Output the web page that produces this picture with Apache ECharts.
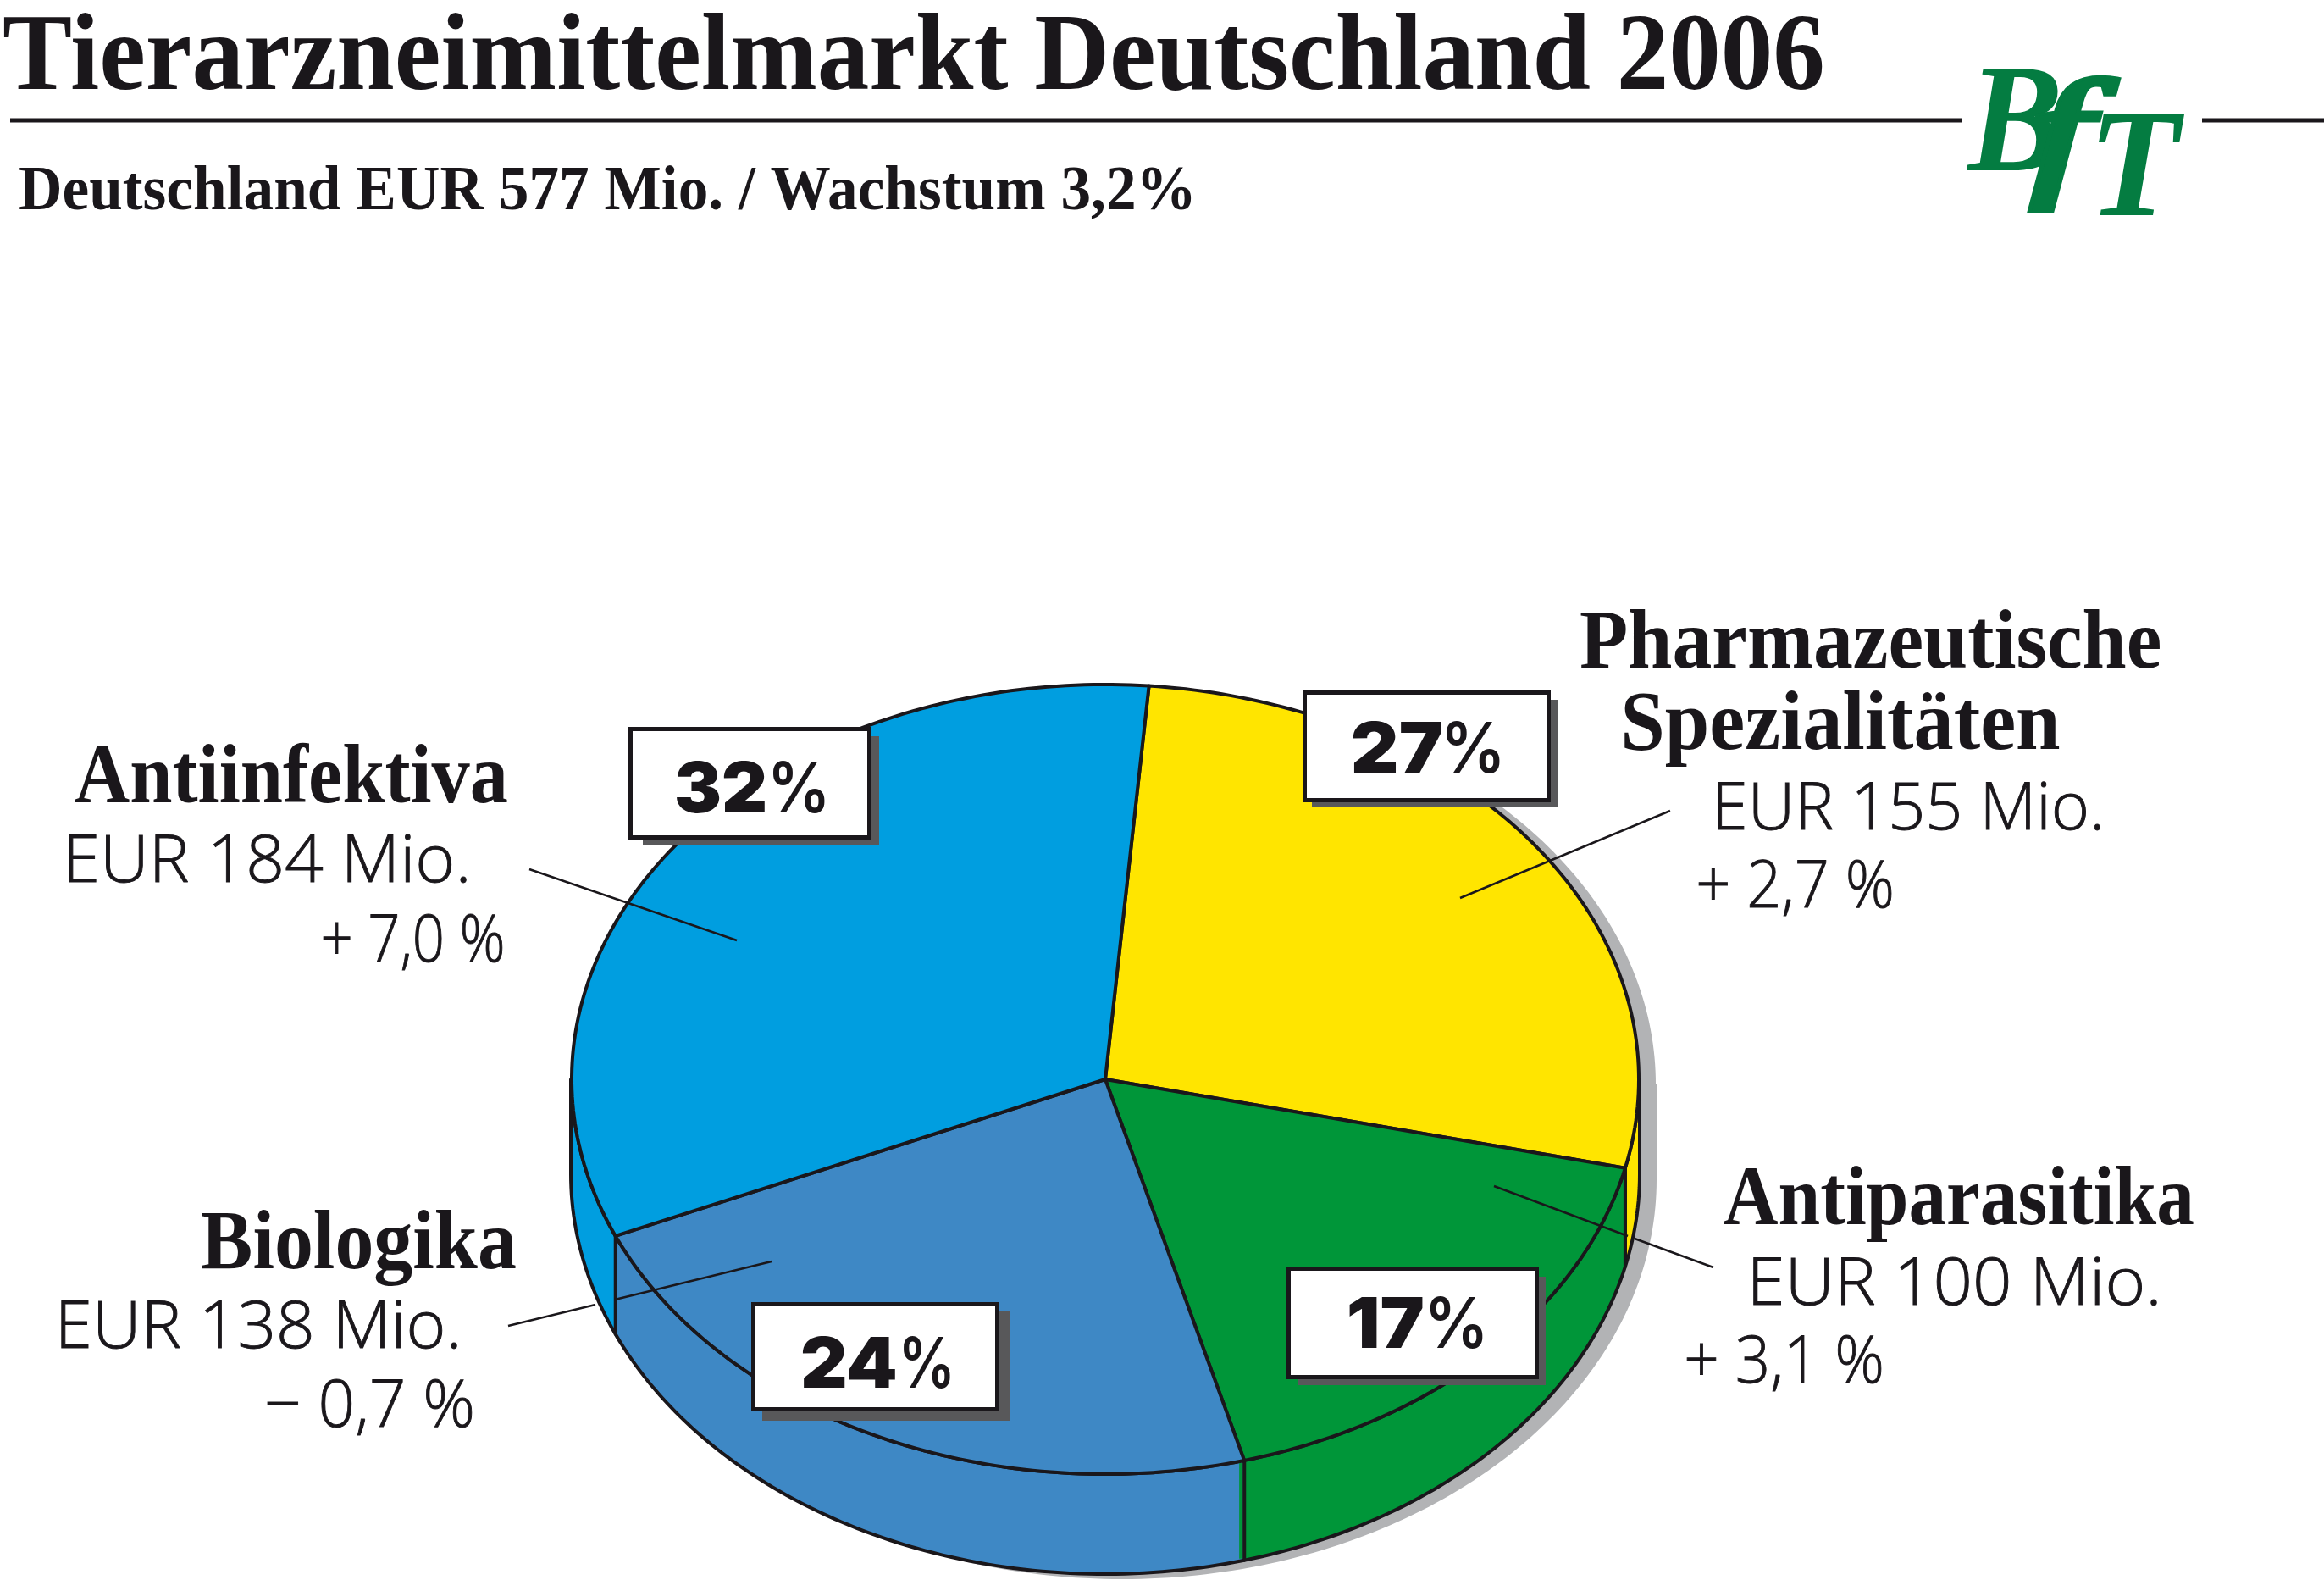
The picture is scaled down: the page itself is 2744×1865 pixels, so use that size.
<!DOCTYPE html>
<html><head><meta charset="utf-8">
<style>html,body{margin:0;padding:0;background:#fff}#c{width:2744px;height:1865px}</style>
<script src="https://cdn.jsdelivr.net/npm/echarts@6/dist/echarts.min.js"></script>
</head><body><div id="c"></div>
<script>
// ---- data ----
const categories = ['Pharmazeutische Spezialitäten', 'Antiparasitika', 'Biologika', 'Antiinfektiva'];
const eurMio = [155, 100, 138, 184];
const growth = ['+ 2,7 %', '+ 3,1 %', '− 0,7 %', '+ 7,0 %'];
const percentLabels = ['27%', '17%', '24%', '32%'];
// share of the circle each slice occupies as drawn in the picture
const drawnShare = [27.3, 17.2, 22.7, 32.8];
const colors = ['#FFE500', '#009639', '#3E88C5', '#009EE0'];
const titleText = 'Tierarzneimittelmarkt Deutschland 2006';
const subtitleText = 'Deutschland EUR 577 Mio. / Wachstum 3,2%';

// ---- layout ----
const INK = '#1a171b', SHADOW = '#b2b3b5', BOXSHADOW = '#58585a', LOGO = '#047c41';
const cx = 1305, cy = 1274, rx = 630, ry = 466, rxB = 631, ryB = 472, depth = 112, startDeg = 4.7;
const rad = d => d * Math.PI / 180;
const topPt = d => [cx + rx * Math.sin(rad(d)), cy - ry * Math.cos(rad(d))];
const botPt = d => [cx + rxB * Math.sin(rad(d)), cy + depth - ryB * Math.cos(rad(d))];
function arc(f, a, b) { const n = Math.max(2, Math.ceil(Math.abs(b - a))), o = []; for (let i = 0; i <= n; i++) o.push(f(a + (b - a) * i / n)); return o; }
function bounds(i) {
  const total = drawnShare.reduce((s, v) => s + v, 0);
  let a = startDeg; for (let k = 0; k < i; k++) a += drawnShare[k] / total * 360;
  return [a, a + drawnShare[i] / total * 360];
}
function botAngle(d) { // the bottom-ellipse angle straight below a top-ellipse angle
  if (d === 90 || d === 270) return d;
  const s = (topPt(d)[0] - cx) / rxB; const t = Math.asin(s) * 180 / Math.PI;
  return 180 - t;
}

function renderTop(params, api) {
  const share = api.value(1); // from drawnShare
  const i = params.dataIndex;
  const [a, b] = bounds(i);
  const children = [{ type: 'polygon', shape: { points: [[cx, cy]].concat(arc(topPt, a, b)) },
    style: { fill: colors[i], stroke: INK, lineWidth: 4, lineJoin: 'round', opacity: share > 0 ? 1 : 0 } }];
  if (i === 1) { // thin misregistered strip of this slice's colour beside its wall edge
    const t = topPt(b), w = botPt(botAngle(b));
    children.push({ type: 'line', shape: { x1: t[0] - 4, y1: t[1] + 3, x2: w[0] - 4, y2: w[1] - 2 }, style: { stroke: colors[i], lineWidth: 4 } });
  }
  return { type: 'group', children };
}
function renderWall(params, api) {
  let [a, b] = bounds(params.dataIndex);
  const la = Math.max(a, 90), lb = Math.min(b, 270);
  if (la >= lb || api.value(1) <= 0) return null;
  let pts = arc(topPt, la, lb);
  if (lb === 270) pts.push([cx - rxB, cy]);
  pts = pts.concat(arc(botPt, botAngle(lb), botAngle(la)));
  if (la === 90) pts.push([cx + rxB, cy]);
  return { type: 'polygon', shape: { points: pts },
    style: { fill: colors[params.dataIndex], stroke: INK, lineWidth: 4, lineJoin: 'round' } };
}
function renderShadow() {
  const dx = 20, dy = 6;
  const pts = arc(topPt, -90, 90).concat([[cx + rxB, cy]], arc(botPt, 90, 270), [[cx - rxB, cy]])
    .map(p => [p[0] + dx, p[1] + dy]);
  return { type: 'polygon', shape: { points: pts }, style: { fill: SHADOW } };
}

// ---- text helper: places real text by its ink extents and baseline ----
const mctx = document.createElement('canvas').getContext('2d');
function T(text, font, x0, x1, base, fill, z, bolden) {
  mctx.font = font; mctx.textAlign = 'left';
  mctx.textBaseline = 'alphabetic';
  const m = mctx.measureText(text);
  const scale = (x1 - x0) / (m.actualBoundingBoxLeft + m.actualBoundingBoxRight);
  mctx.textBaseline = 'middle';
  const off = mctx.measureText('H').actualBoundingBoxDescent;
  const style = { text, font, fill: fill || INK, align: 'left', verticalAlign: 'middle' };
  if (bolden) { style.stroke = fill || INK; style.lineWidth = bolden; }
  return { type: 'text', z: z || 50, silent: true, x: x0 + m.actualBoundingBoxLeft * scale, y: base - off, scaleX: scale, scaleY: 1, style };
}
function L(x1, y1, x2, y2, w, z) {
  return { type: 'line', z: z || 40, silent: true, shape: { x1, y1, x2, y2 }, style: { stroke: INK, lineWidth: w } };
}
function box(x0, y0, x1, y1, sx0, sy0, sx1, sy1) {
  return [
    { type: 'rect', z: 42, silent: true, shape: { x: sx0, y: sy0, width: sx1 - sx0, height: sy1 - sy0 }, style: { fill: BOXSHADOW } },
    { type: 'rect', z: 43, silent: true, shape: { x: x0 + 2.5, y: y0 + 2.5, width: x1 - x0 - 5, height: y1 - y0 - 5 }, style: { fill: '#fff', stroke: INK, lineWidth: 5 } }
  ];
}
const HEAD = 'bold 100px "Liberation Serif"';
const BODY = '300 77px "Open Sans"';
const PCT = '900 82px "Inter"';
const PCTSIGN = '600 82px "Inter"';
const LOGOF = 'italic bold 182px "Liberation Serif"';
const LOGOf = 'italic 170px "Liberation Serif"';
const [pIdx, aIdx, bIdx, iIdx] = [0, 1, 2, 3];
const eur = i => 'EUR ' + eurMio[i] + ' Mio.';
const B = (t, x0, x1, base) => T(t, BODY, x0, x1, base, INK, 50, 0.9);
function pct(i, x0, x1, x2, x3, base) {
  const s = percentLabels[i];
  return [T(s.slice(0, -1), PCT, x0, x1, base, INK, 45), T('%', PCTSIGN, x2, x3, base, INK, 45)];
}

const graphicEls = [
  T(titleText, 'bold 130px "Liberation Serif"', 5, 2152, 105),
  T(subtitleText, 'bold 73px "Liberation Serif"', 23, 1407, 247),
  L(12, 142, 2317, 142, 5), L(2600, 142, 2744, 142, 5),
  T('B', LOGOF, 2322, 2430, 201, LOGO), T('f', LOGOf, 2398, 2499, 213, LOGO, 50, 7), T('T', LOGOF, 2478, 2580, 254, LOGO),
  // Antiinfektiva
  T(categories[iIdx], HEAD, 88, 599, 948), B(eur(iIdx), 81, 551, 1042), B(growth[iIdx], 382, 593, 1136),
  // Pharmazeutische Spezialitaeten
  T('Pharmazeutische', HEAD, 1866, 2550, 789), T('Spezialitäten', HEAD, 1918, 2432, 885),
  B(eur(pIdx), 2028, 2480, 980), B(growth[pIdx], 2006, 2233, 1072),
  // Antiparasitika
  T(categories[aIdx], HEAD, 2035, 2590, 1446), B(eur(aIdx), 2070, 2547, 1541), B(growth[aIdx], 1992, 2221, 1633),
  // Biologika
  T(categories[bIdx], HEAD, 238, 609, 1498), B(eur(bIdx), 72, 540, 1592), B(growth[bIdx], 316, 557, 1685),
  // leaders
  L(625, 1026, 870, 1110, 2.5), L(1972, 957, 1724, 1060, 2.5),
  L(2023, 1496, 1930, 1462, 2.5), L(1922, 1459, 1764, 1400, 2.5),
  L(600, 1565, 703, 1540, 2.5), L(726, 1534, 911, 1489, 2.5),
  // boxes
  ...box(742, 858, 1029, 991, 759, 869, 1038, 998),
  ...box(1538, 815, 1831, 947, 1549, 826, 1840, 953),
  ...box(1519, 1495, 1817, 1628, 1533, 1507, 1825, 1635),
  ...box(887, 1537, 1180, 1666, 900, 1548, 1193, 1677),
  ...pct(3, 799, 903, 913, 974, 959),
  ...pct(0, 1597, 1702, 1708, 1771, 912),
  ...pct(1, 1593, 1680, 1689, 1751, 1591),
  ...pct(2, 947, 1057, 1067, 1122, 1638)
];

const rows = categories.map((c, i) => ({ name: c, value: [i, drawnShare[i], eurMio[i]] }));
const chart = echarts.init(document.getElementById('c'), null, { renderer: 'canvas', width: 2744, height: 1865 });
chart.setOption({
  animation: false,
  backgroundColor: '#ffffff',
  series: [
    { type: 'custom', coordinateSystem: 'none', z: 1, silent: true, data: [[0, 1]], renderItem: renderShadow },
    { type: 'custom', coordinateSystem: 'none', z: 2, silent: true, data: rows, renderItem: renderWall },
    { type: 'custom', coordinateSystem: 'none', z: 3, silent: true, data: rows, renderItem: renderTop }
  ],
  graphic: { elements: graphicEls }
});
</script></body></html>
